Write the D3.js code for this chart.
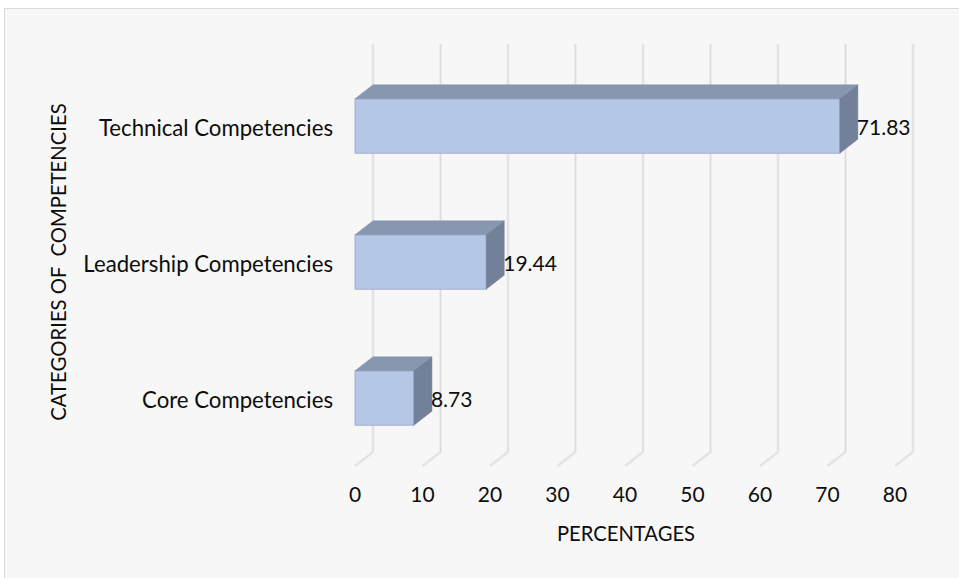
<!DOCTYPE html>
<html>
<head>
<meta charset="utf-8">
<script src="https://cdn.jsdelivr.net/npm/d3@7"></script>
<style>
  html, body { margin: 0; padding: 0; background: #ffffff; }
  svg { display: block; }
  text { font-family: Lato, "Open Sans", sans-serif; fill: #0d0d0d; }
</style>
</head>
<body>
<script>
// ---- data ----
const categories = ["Technical Competencies", "Leadership Competencies", "Core Competencies"];
const values = [71.83, 19.44, 8.73];
const xTicks = [0, 10, 20, 30, 40, 50, 60, 70, 80];
const xTitle = "PERCENTAGES";
const yTitle = "CATEGORIES OF  COMPETENCIES";

// ---- layout ----
const W = 959, H = 578;
const depthX = 18, depthY = -14;

const svg = d3.select("body").append("svg").attr("width", W).attr("height", H);

// chart area background (border on top/left only visible)
svg.append("rect")
  .attr("x", 4.5).attr("y", 8.5).attr("width", W + 10).attr("height", H + 10)
  .attr("fill", "#f7f7f7").attr("stroke", "#d9d9d9").attr("stroke-width", 1);

const x = d3.scaleLinear().domain([0, 80]).range([355, 895]);
const y = d3.scaleBand().domain(categories).range([58, 466]).paddingInner(0.6).paddingOuter(0.3);

const yTop = y.range()[0], yBot = y.range()[1];

// ---- gridlines (back wall + floor) ----
const grid = svg.append("g");
xTicks.forEach(t => {
  const xb = x(t) + depthX;
  const pts = [[xb, yTop + depthY], [xb, yBot + depthY], [x(t), yBot]];
  const line = d3.line();
  grid.append("path").attr("d", line(pts)).attr("fill", "none")
    .attr("stroke", "#ebebeb").attr("stroke-width", 3).attr("stroke-linejoin", "round");
  grid.append("path").attr("d", line(pts)).attr("fill", "none")
    .attr("stroke", "#dcdcdc").attr("stroke-width", 1);
});

// ---- 3D bars ----
const bars = svg.append("g");
categories.forEach((c, i) => {
  const v = values[i];
  const x0 = x(0), x1 = x(v);
  const y0 = y(c), y1 = y(c) + y.bandwidth();
  // front face
  bars.append("rect")
    .attr("x", x0).attr("y", y0).attr("width", x1 - x0).attr("height", y1 - y0)
    .attr("fill", "#b4c7e7").attr("stroke", "#a3afc6").attr("stroke-width", 1);
  // top face
  bars.append("path")
    .attr("d", d3.line()([[x0, y0], [x0 + depthX, y0 + depthY], [x1 + depthX, y0 + depthY], [x1, y0]]) + "Z")
    .attr("fill", "#8797b0").attr("stroke", "#8797b0").attr("stroke-width", 0.5);
  // side face
  bars.append("path")
    .attr("d", d3.line()([[x1, y0], [x1 + depthX, y0 + depthY], [x1 + depthX, y1 + depthY], [x1, y1]]) + "Z")
    .attr("fill", "#728099").attr("stroke", "#728099").attr("stroke-width", 0.5);
  // value label
  svg.append("text")
    .attr("x", x1 + depthX - 1).attr("y", y0 + y.bandwidth() / 2 + 8.5)
    .attr("font-size", 21).attr("text-anchor", "start")
    .text(v.toFixed(2));
  // category label
  svg.append("text")
    .attr("x", x0 - 22).attr("y", y0 + y.bandwidth() / 2 + 10)
    .attr("font-size", 22.2).attr("text-anchor", "end")
    .text(c);
});

// ---- x tick labels ----
xTicks.forEach(t => {
  svg.append("text")
    .attr("x", x(t)).attr("y", 502)
    .attr("font-size", 21).attr("text-anchor", "middle")
    .text(t);
});

// ---- axis titles ----
svg.append("text")
  .attr("x", (x(0) + x(80)) / 2 + 1).attr("y", 541)
  .attr("font-size", 20.2).attr("text-anchor", "middle")
  .text(xTitle);

svg.append("text")
  .attr("transform", "translate(66," + (yTop + yBot) / 2 + ") rotate(-90)")
  .attr("font-size", 20.3).attr("text-anchor", "middle")
  .attr("xml:space", "preserve").style("white-space", "pre")
  .text(yTitle);
</script>
</body>
</html>
